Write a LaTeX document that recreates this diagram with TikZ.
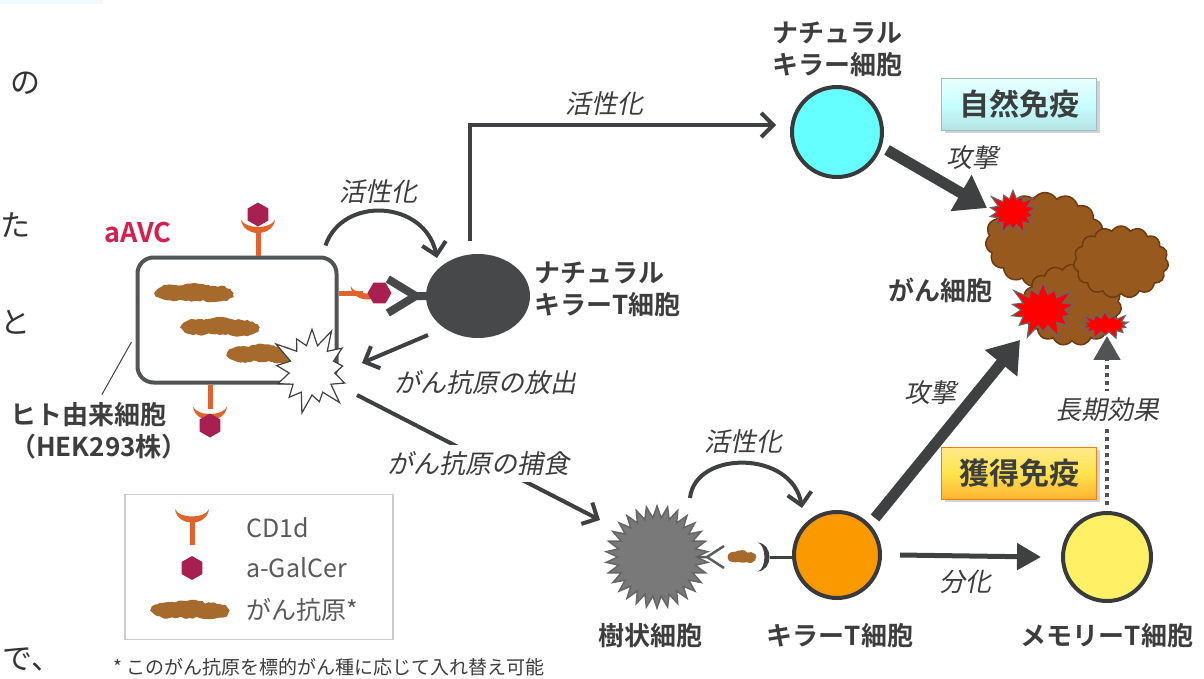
\documentclass[tikz,border=0pt]{standalone}
\usepackage{fontspec}
\setmainfont{Noto Sans CJK JP}[BoldFont={Noto Sans CJK JP Bold}]
\newfontfamily\jpit{Noto Sans CJK JP}[FakeSlant=0.2]
\usepackage{tikz}
\usetikzlibrary{calc, positioning, arrows.meta, shapes.geometric, shapes.symbols, shadows, decorations.pathmorphing}

\definecolor{ink}{HTML}{3F4042}
\definecolor{nktgray}{HTML}{46484A}
\definecolor{cdorange}{HTML}{E2622B}
\definecolor{galred}{HTML}{A8204F}
\definecolor{antigen}{HTML}{A66A2C}
\definecolor{tumor}{HTML}{98591F}
\definecolor{tumorline}{HTML}{6E3B10}
\definecolor{nkcyan}{HTML}{66FFFF}
\definecolor{ktorange}{HTML}{FB9A00}
\definecolor{memyellow}{HTML}{FFF066}
\definecolor{avcred}{HTML}{D4204C}
\definecolor{txt}{HTML}{3D3D3D}

\tikzset{
  lbl/.style={font=\bfseries\fontsize{26}{32}\selectfont, text=txt, align=center, inner sep=2pt},
  act/.style={font=\jpit\fontsize{26}{30}\selectfont, text=txt, inner sep=3pt},
  key/.style={font=\fontsize{25}{25}\selectfont, text=txt!85, anchor=west, inner sep=0pt},
  flow/.style={draw=ink, line width=4pt, -{Straight Barb[length=12pt,width=24pt]}},
  attack/.style={draw=ink, line width=11pt, -{Triangle[length=30pt,width=40pt]}},
  diff/.style={draw=ink, line width=5pt, -{Triangle[length=24pt,width=26pt]}},
  longterm/.style={draw=ink!90, line width=4.5pt, dash pattern=on 4pt off 4pt, -{Triangle[length=24pt,width=26pt]}},
  cell/.style={circle, draw=ink!90!black, line width=4pt},
  tumorcell/.style={cloud, cloud puffs=15, cloud puff arc=120, cloud ignores aspect, fill=tumor, draw=tumorline, line width=1.5pt},
  hit/.style={starburst, starburst points=14, fill=red, draw=ink!80, line width=1.2pt, inner sep=0pt},
  immbox/.style={rectangle, font=\bfseries\fontsize{30}{32}\selectfont, text=txt, minimum width=155pt, minimum height=52pt,
    drop shadow={shadow xshift=3pt, shadow yshift=-3pt, opacity=0.35}},
  pics/agblob/.style={code={
    \fill[antigen, decorate, decoration={random steps, segment length=3pt, amplitude=0.9pt}]
      (-21,0) ellipse (18 and 8) (0,-1) ellipse (20 and 9) (21,1) ellipse (18 and 8);
  }},
  pics/cup/.style={code={
    \fill[#1] (-17,-7) .. controls (-15,11) and (15,11) .. (17,-7) .. controls (13,3) and (-13,3) .. cycle;
  }},
  pics/cdone/.style={code={
    \fill[cdorange] (-2.5,0) rectangle (2.5,-24);
    \pic at (0,-29) {cup=cdorange};
  }},
  pics/galcer/.style={code={
    \fill[galred] (0,0) +(90:12) -- +(150:12) -- +(210:12) -- +(270:12) -- +(330:12) -- +(30:12) -- cycle;
  }},
}

\begin{document}
\begin{tikzpicture}[x=1pt, y=-1pt]
  \useasboundingbox (0,0) rectangle (1204,678);
  \fill[cyan!6] (0,0) rectangle (103,4);

  % text running off the left edge
  \foreach \t/\xx/\yy [count=\i] in {の/10/83, た/0/225, と/0/322, で、/2/659}
    \node[font=\fontsize{30}{30}\selectfont, text=black!80, inner sep=0pt, anchor=west] (frag\i) at (\xx,\yy) {\t};

  % aAVC
  \node[draw=ink!90, line width=4pt, rounded corners=16pt, minimum width=199pt, minimum height=125pt] (host) at (237,320) {};
  \pic at (194,293) {agblob};
  \pic at (220,327) {agblob};
  \pic[xscale=0.9] at (262,354) {agblob};
  \pic at ($(host.north)+(21,0)$) {cdone};
  \pic at ($(host.north)+(21,-41)$) {galcer};
  \pic[rotate=-90] at ($(host.east)+(0,-27)$) {cdone};
  \pic[rotate=90] at ($(host.east)+(41,-27)$) {galcer};
  \pic[rotate=180] at ($(host.south)+(-27,0)$) {cdone};
  \pic at ($(host.south)+(-27,41)$) {galcer};
  \node[starburst, starburst points=13, starburst point height=22pt, minimum width=90pt, minimum height=94pt,
    fill=white, draw=ink, line width=1.2pt] (burst) at (312,370) {};
  \node[font=\bfseries\fontsize{27}{27}\selectfont, text=avcred] (avc) at (138,233) {aAVC};
  \node[lbl, align=left, anchor=west] (hostlbl) at (8,431) {ヒト由来細胞\\（HEK293株）};
  \draw[ink, line width=1pt] ($(hostlbl.north)+(3,-6)$) -- ($(host.west)+(-4,22)$);

  % NKT cell
  \node[ellipse, fill=nktgray, minimum width=104pt, minimum height=84pt] (nkt) at (478,296) {};
  \draw[nktgray, line width=8pt] ($(nkt.west)+(-38,-17)$) -- ($(nkt.west)+(-10,0)$) -- ($(nkt.west)+(-38,17)$)
    ($(nkt.west)+(-10,0)$) -- ($(nkt.west)+(4,0)$);
  \node[lbl, align=left, right=2pt of nkt, yshift=7pt] (nktlbl) {ナチュラル\\キラーT細胞};

  % NK cell
  \node[cell, fill=nkcyan, minimum size=90pt] (nk) at (837,132) {};
  \node[lbl, above=6pt of nk] (nklbl) {ナチュラル\\キラー細胞};

  % cancer cells
  \node[tumorcell, minimum width=119pt, minimum height=95pt] (tumor1) at (1045,240) {};
  \node[tumorcell, minimum width=99pt, minimum height=81pt] (tumor3) at (1072,305) {};
  \node[tumorcell, minimum width=95pt, minimum height=72pt] (tumor2) at (1121,262) {};
  \node[hit, minimum width=56pt, minimum height=50pt, starburst point height=12pt] (hit1) at (1013,212) {};
  \node[hit, minimum width=76pt, minimum height=64pt, starburst point height=16pt] (hit2) at (1043,310) {};
  \node[hit, minimum width=54pt, minimum height=32pt, starburst point height=9pt] (hit3) at (1105,325) {};
  \node[lbl] (tumorlbl) at (940,290) {がん細胞};

  % immunity boxes
  \node[immbox, draw=cyan!30!gray!70, top color=cyan!8, bottom color=cyan!45!gray!40, middle color=cyan!22] (innate) at (1019,104) {自然免疫};
  \node[immbox, draw=orange!70!brown, top color=yellow!60!orange!45, bottom color=orange!75!yellow!80, middle color=yellow!70!orange!70] (acquired) at (1019,473) {獲得免疫};

  % dendritic cell and killer T cell
  \node[star, star points=30, star point ratio=1.3, minimum size=102pt, inner sep=0pt,
    fill=gray!95!black, draw=ink!80, line width=1.5pt] (dc) at (657,557) {};
  \draw[ink!85, line width=2.5pt] ($(dc.east)+(26,-11)$) -- ($(dc.east)+(9,0)$) -- ($(dc.east)+(26,11)$)
    ($(dc.east)+(9,0)$) -- (dc.east);
  \pic[xscale=0.35, yscale=0.6] at (742,557) {agblob};
  \node[cell, fill=ktorange, minimum size=86pt] (killer) at (837,555) {};
  \pic[rotate=90, scale=0.85] at ($(killer.west)+(-28,2)$) {cup=ink};
  \draw[ink, line width=3pt] ($(killer.west)+(-22,2)$) -- ($(killer.west)+(0,2)$);
  \node[cell, fill=memyellow, minimum size=88pt] (memory) at (1107,557) {};
  \node[lbl] (dclbl) at (650,636) {樹状細胞};
  \node[lbl] (ktlbl) at (840,636) {キラーT細胞};
  \node[lbl] (memlbl) at (1107,636) {メモリーT細胞};

  % arrows
  \draw[flow] ($(host.north east)+(-13,-10)$) .. controls +(17,-50) and +(-12,-58) .. ($(nkt)+(-41,-38)$);
  \node[act] (act1) at (378,192) {活性化};
  \draw[flow] ($(nkt.north)+(-8,-13)$) |- ($(nk.west)+(-14,-7)$) node[act, pos=0.72, above=4pt] (act2) {活性化};
  \draw[flow] ($(nkt)+(-50,39)$) -- ($(burst)+(50,-7)$);
  \node[act] (release) at (485,383) {がん抗原の放出};
  \draw[flow] ($(burst)+(45,25)$) -- ($(dc)+(-57,-37)$) node[act, pos=0.5, yshift=-6pt, fill=white, inner sep=6pt] (uptake) {がん抗原の捕食};
  \draw[flow] ($(dc)+(33,-59)$) .. controls +(5,-48) and +(-10,-58) .. ($(killer)+(-35,-47)$);
  \node[act] (act3) at (743,442) {活性化};

  \draw[attack] ($(nk)+(50,18)$) -- ($(hit1)+(-26,-4)$);
  \node[act] (atk1) at (972,158) {攻撃};
  \draw[attack] ($(killer)+(38,-37)$) -- ($(hit2)+(-23,30)$);
  \node[act] (atk2) at (930,393) {攻撃};
  \draw[diff] ($(killer.east)+(18,0)$) -- ($(memory.west)+(-20,0)$);
  \node[act] (diflbl) at (965,582) {分化};
  \draw[longterm, shorten <=6pt] (memory.north) -- (memory |- hit3.south)
    node[act, pos=0.58, fill=white, inner sep=6pt] (effect) {長期効果};

  % legend
  \node[draw=gray!40, line width=1.2pt, minimum width=268pt, minimum height=145pt] (legend) at (259,567) {};
  \pic at (192,545) {cdone};
  \pic at (192,568) {galcer};
  \pic at (190,610) {agblob};
  \node[key] (key1) at (246,528) {CD1d};
  \node[key] (key2) at (246,568) {a-GalCer};
  \node[key] (key3) at (246,610) {がん抗原*};
  \node[anchor=west, font=\fontsize{19}{19}\selectfont, text=txt] (note) at (110,667) {* このがん抗原を標的がん種に応じて入れ替え可能};
\end{tikzpicture}
\end{document}
